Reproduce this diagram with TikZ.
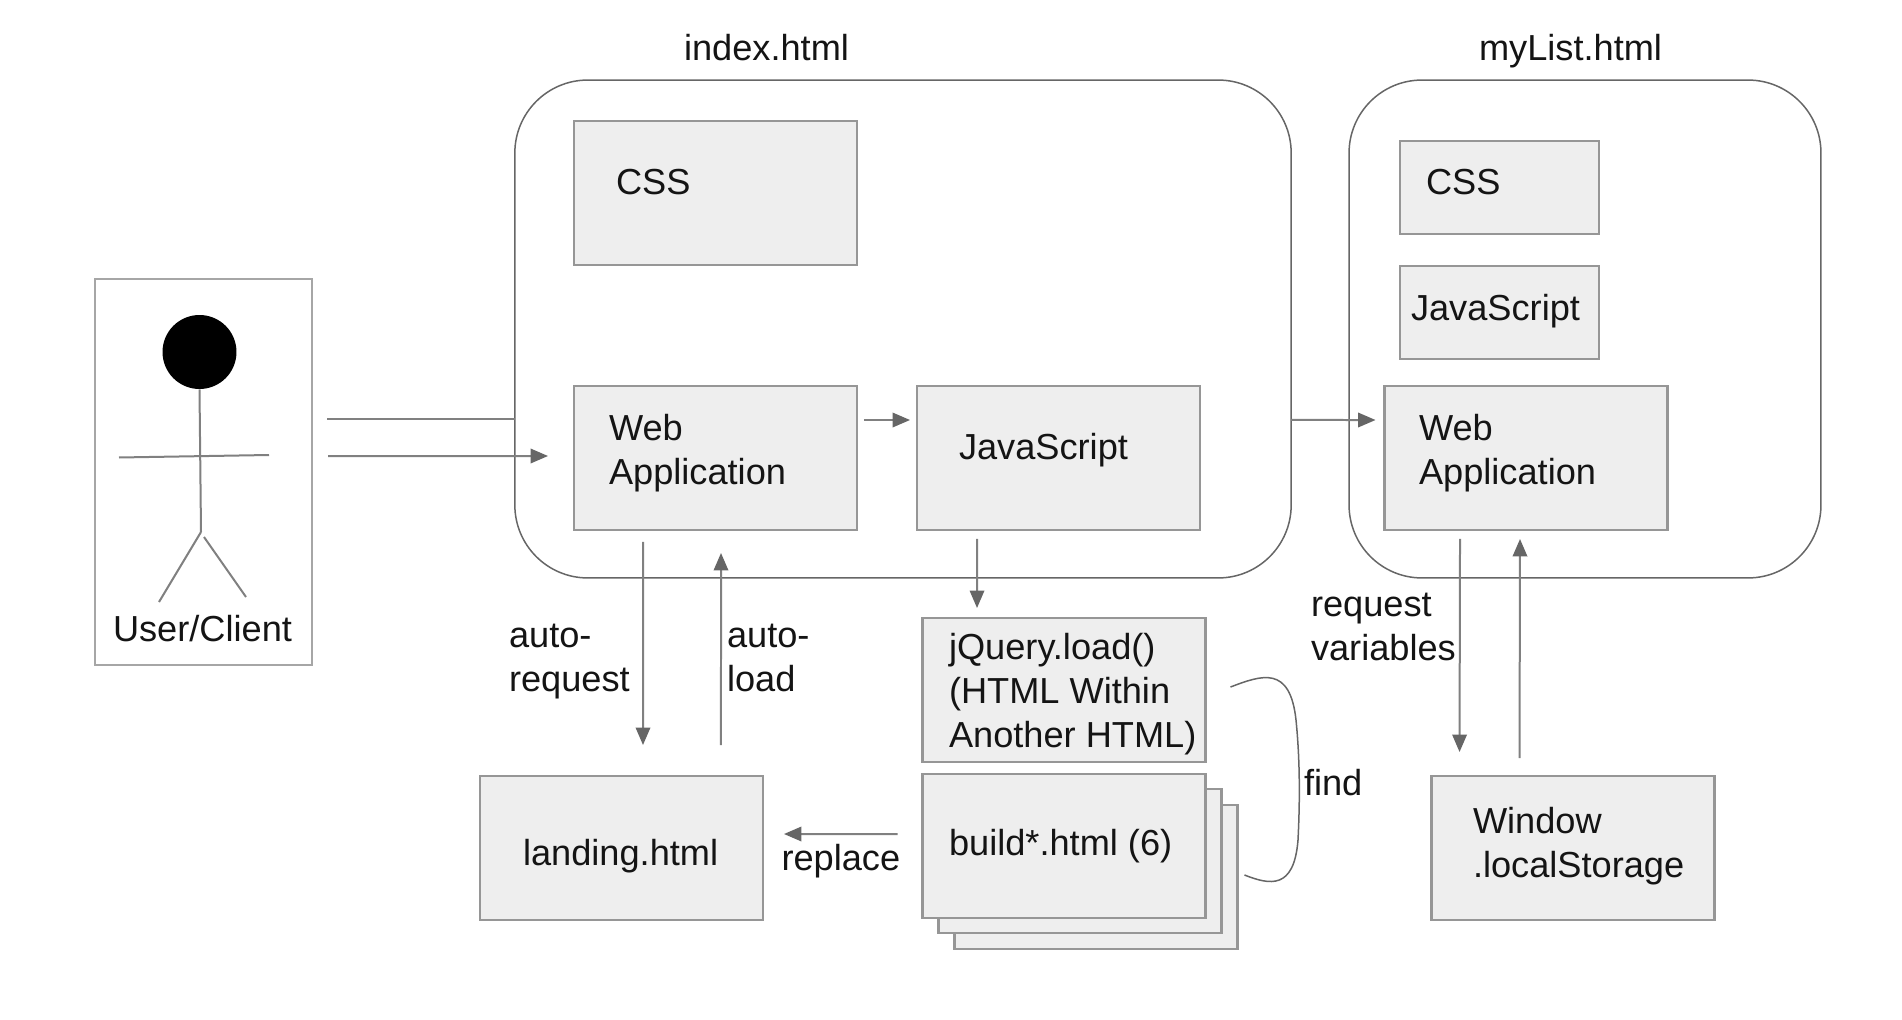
\documentclass[tikz,border=0pt]{standalone}
\usepackage{fontspec}
\setmainfont{Liberation Sans}
\usetikzlibrary{positioning,arrows.meta}
\definecolor{boxFill}{RGB}{238,238,238}
\definecolor{lineGrey}{RGB}{150,150,150}
\definecolor{arrowGrey}{RGB}{128,128,128}
\definecolor{flowGrey}{RGB}{102,102,102}
\tikzset{
    page/.style={rectangle, rounded corners=1.46cm, draw=flowGrey, line width=0.03cm, minimum height=9.96cm, inner sep=0pt, outer sep=0pt},
    part/.style={rectangle, draw=lineGrey, fill=boxFill, line width=0.05cm, inner sep=0pt, outer sep=0pt},
    wide/.style={part, minimum width=5.66cm, minimum height=2.88cm},
    small/.style={part, minimum width=3.98cm, minimum height=1.86cm},
    txt/.style={anchor=base west, align=left, inner sep=0pt, outer sep=0pt, text=black!92, font=\fontsize{20.6pt}{24.9pt}\selectfont},
    flow/.style={draw=arrowGrey, line width=0.04cm, -{Triangle[length=0.35cm,width=0.29cm,color=flowGrey,fill=flowGrey]}},
    plain/.style={draw=arrowGrey, line width=0.04cm}
}
\begin{document}
\begin{tikzpicture}[x=0.02cm,y=-0.02cm]
\useasboundingbox (0,0) rectangle (1902,1020);
% User
\node[part, fill=white, draw=black!35, minimum width=4.34cm, minimum height=7.72cm] (user) at (203.5,472) {};
\node[circle, fill=black, minimum size=1.48cm, inner sep=0pt] (head) at (199.5,352) {};
\coordinate (armL) at (119,457.5);
\coordinate (armR) at (269,455);
\coordinate (hip) at (201,532);
\coordinate (hipB) at (204,537);
\coordinate (footL) at (159,602);
\coordinate (footR) at (246,597);
\draw[plain] (head.south) -- (hip);
\draw[plain] (armL) -- (armR);
\draw[plain] (hip) -- (footL);
\draw[plain] (hipB) -- (footR);
\node[txt] (userText) at (113,641) {User/Client};

% Seiten
\node[page, minimum width=15.53cm] (index) at (903,329) {};
\node[page, minimum width=9.44cm] (myList) at (1585,329) {};
\node[txt] (indexText) at (684,61) {index.html};
\node[txt] (myListText) at (1479,61) {myList.html};

% index.html
\node[wide] (cssA) at (715.5,193) {};
\node[wide] (webA) at (715.5,458) {};
\node[wide] (jsA) at (1058.5,458) {};
\node[txt] (cssAText) at (616,195) {CSS};
\node[txt] (webAText) at (609,484) {Web\\Application};
\node[txt] (jsAText) at (959,459) {JavaScript};

% myList.html
\node[small] (cssB) at (1499.5,187.5) {};
\node[small] (jsB) at (1499.5,312.5) {};
\node[wide] (webB) at (1526,458) {};
\node[txt] (cssBText) at (1426,195) {CSS};
\node[txt] (jsBText) at (1411,320) {JavaScript};
\node[txt] (webBText) at (1419,484) {Web\\Application};

% untere Reihe
\node[wide] (jquery) at (1064,690) {};
\foreach \n/\x/\y in {build3/1096/877, build2/1080/861, build1/1064/846} {
    \node[wide] (\n) at (\x,\y) {};
}
\node[wide] (landing) at (621.5,848) {};
\node[wide] (window) at (1573,848) {};
\node[txt] (jqueryText) at (949,747) {jQuery.load()\\(HTML Within\\Another HTML)};
\node[txt] (buildText) at (949,855) {build*.html (6)};
\node[txt] (landingText) at (523,865) {landing.html};
\node[txt] (windowText) at (1473,877) {Window\\.localStorage};

% Beschriftungen
\node[txt] (requestText) at (509,691.5) {auto-\\request};
\node[txt] (loadText) at (727,691.5) {auto-\\load};
\node[txt] (replaceText) at (781.5,870) {replace};
\node[txt] (findText) at (1304,795) {find};
\node[txt] (variablesText) at (1311,660) {request\\variables};

% Verbindungen
\coordinate (userA) at (327,419);
\coordinate (userB) at (328,456);
\draw[plain] (userA) -- (userA -| index.west);
\draw[flow] (userB) -- ([xshift=-0.52cm,yshift=0.04cm]webA.west);
\draw[flow] ([xshift=0.14cm,yshift=0.76cm]webA.east) -- ([xshift=-0.14cm,yshift=0.76cm]jsA.west);
\draw[flow] ([yshift=-1.82cm]index.east) -- ([xshift=-0.18cm,yshift=0.76cm]webB.west);
\draw[flow] ([xshift=-1.63cm,yshift=-0.18cm]jsA.south) -- ([xshift=-1.74cm,yshift=0.2cm]jquery.north);
\draw[flow] ([xshift=-1.45cm,yshift=-0.24cm]webA.south) -- ([xshift=0.43cm,yshift=0.62cm]landing.north);
\draw[flow] ([xshift=1.99cm,yshift=0.62cm]landing.north) -- ([xshift=0.11cm,yshift=-0.46cm]webA.south);
\draw[flow] ([xshift=-1.32cm,yshift=-0.18cm]webB.south) -- ([xshift=-2.27cm,yshift=0.48cm]window.north);
\draw[flow] ([xshift=-1.07cm,yshift=0.36cm]window.north) -- ([xshift=-0.12cm,yshift=-0.18cm]webB.south);
\draw[flow] ([xshift=-0.5cm,yshift=0.24cm]build1.west) -- ([xshift=0.42cm,yshift=0.28cm]landing.east);
\coordinate (findA) at ([xshift=0.5cm,yshift=0.06cm]jquery.east);
\coordinate (findB) at ([xshift=0.14cm,yshift=0.04cm]build3.east);
\draw[flowGrey, line width=0.03cm] (findA) .. controls (1262,675) and (1290,665) .. (1296,720)
    .. controls (1300,760) and (1300,800) .. (1298,840)
    .. controls (1294,890) and (1270,885) .. (findB);
\end{tikzpicture}
\end{document}
